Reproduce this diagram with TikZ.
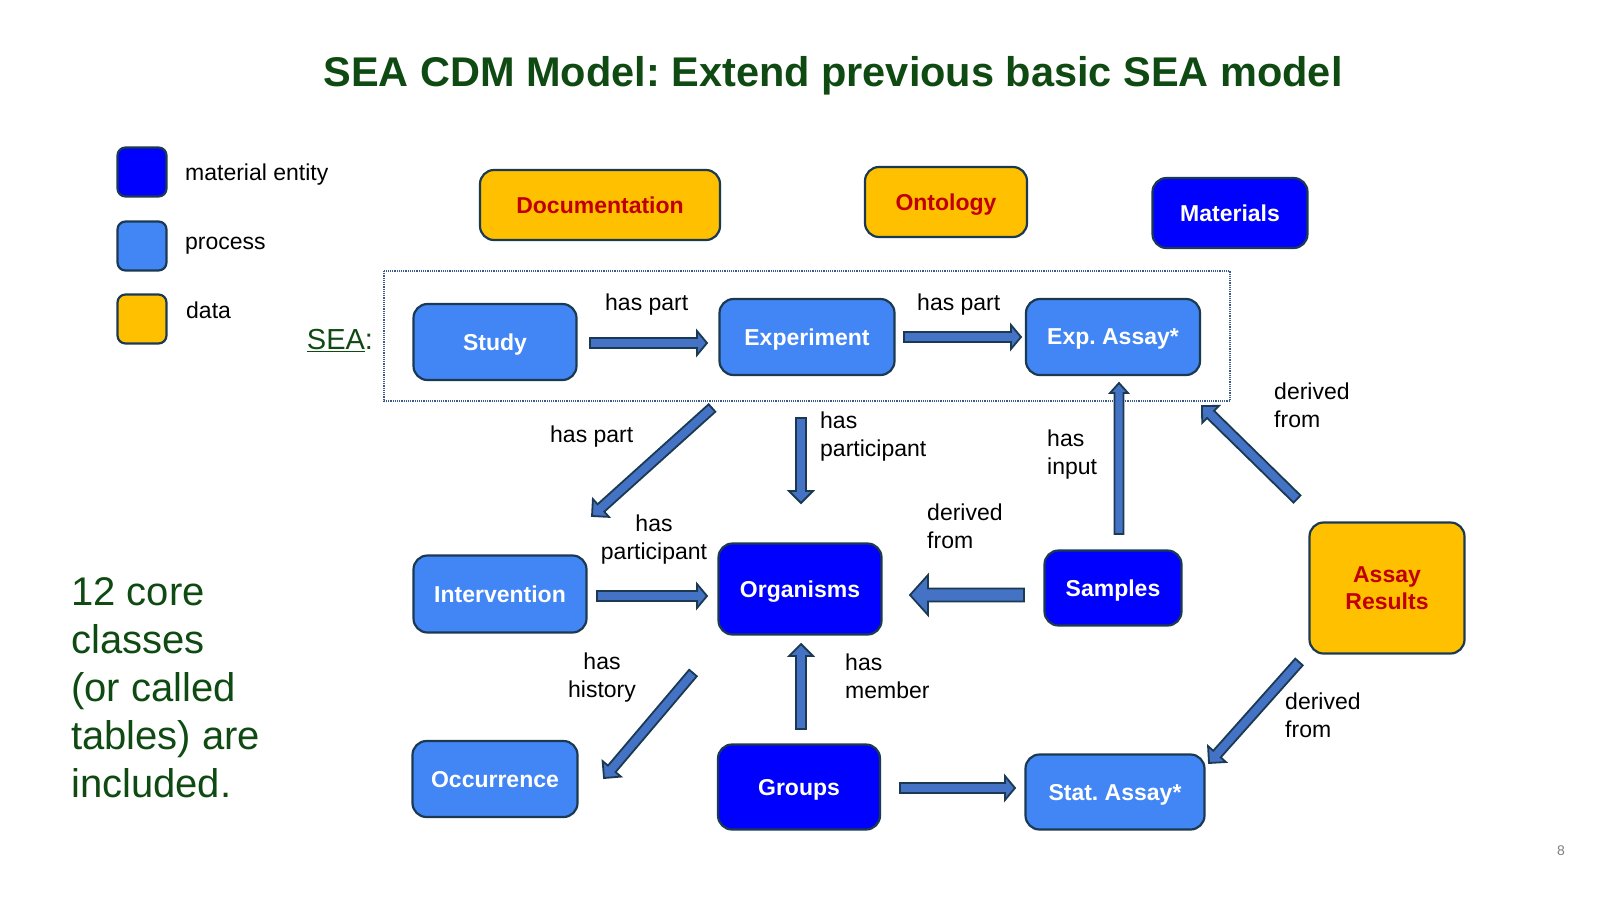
\documentclass[tikz,border=0pt]{standalone}
\usepackage{fontspec}
\setmainfont{Liberation Sans}
\usetikzlibrary{calc}
\frenchspacing
\definecolor{dgreen}{HTML}{0F4A12}
\definecolor{proc}{HTML}{4285F4}
\definecolor{mat}{HTML}{0000FF}
\definecolor{dat}{HTML}{FFC000}
\definecolor{bord}{HTML}{1B3A52}
\definecolor{arrfill}{HTML}{4472C4}
\definecolor{datext}{HTML}{C00000}
\definecolor{dotc}{HTML}{3A5A8C}
\newcommand\myarrow[5]{%
  \coordinate (tmpT) at ($(#2)!#5!(#1)$);
  \draw[barrow] ($(#1)!#3!90:(#2)$) -- ($(tmpT)!#3!90:(#2)$) -- ($(tmpT)!#4!90:(#2)$) -- (#2) -- ($(tmpT)!#4!-90:(#2)$) -- ($(tmpT)!#3!-90:(#2)$) -- ($(#1)!#3!-90:(#2)$) -- cycle;
}
\begin{document}
\frenchspacing
\begin{tikzpicture}[x=1pt,y=-1pt,
  box/.style={draw=bord, line width=2.2pt, rounded corners=14pt, font=\fontsize{23}{27}\selectfont\bfseries, align=center, inner sep=0pt, text depth=0pt},
  procbox/.style={box, fill=proc, text=white},
  matbox/.style={box, fill=mat, text=white},
  databox/.style={box, fill=dat, text=datext},
  legbox/.style={draw=bord, line width=2.2pt, rounded corners=8pt, minimum width=49pt, minimum height=49pt, inner sep=0pt},
  lbl/.style={font=\fontsize{23}{28}\selectfont, align=left, inner sep=0pt},
  lblc/.style={font=\fontsize{23}{28}\selectfont, align=center, inner sep=0pt},
  barrow/.style={fill=arrfill, draw=bord, line width=1.8pt, line join=miter}]
\useasboundingbox (0,0) rectangle (1600,900);
% title
\node[text=dgreen, font=\fontsize{41.5}{49}\selectfont\bfseries] (title) at (833,76) {SEA CDM Model: Extend previous basic SEA model};
% legend
\node[legbox, fill=mat] (lg1) at (142,172) {};
\node[legbox, fill=proc] (lg2) at (142,246) {};
\node[legbox, fill=dat] (lg3) at (142,319) {};
\node[lbl, anchor=west] (lt1) at (185,175) {material entity};
\node[lbl, anchor=west] (lt2) at (185,246) {process};
\node[lbl, anchor=west] (lt3) at (186,310) {data};
% left text
\node[text=dgreen, font=\fontsize{40}{48}\selectfont, align=left, anchor=north west, inner sep=0pt] (core) at (71,577) {12 core\\classes\\(or called\\tables) are\\included.};
% SEA label
\node[text=dgreen, font=\fontsize{29}{34}\selectfont, inner sep=0pt] (sealbl) at (340,341) {\underline{SEA}:};
% dotted box
\draw[dotc, densely dotted, line width=1.2pt] (384,271) rectangle (1230,401);
% top data/material
\node[databox, minimum width=240pt, minimum height=70pt] (doc) at (600,205) {Documentation};
\node[databox, minimum width=162pt, minimum height=70pt] (onto) at (946,202) {Ontology};
\node[matbox, minimum width=155pt, minimum height=70pt] (mats) at (1230,213) {Materials};
% SEA row
\node[procbox, minimum width=163pt, minimum height=76pt] (study) at (495,342) {Study};
\node[procbox, minimum width=175pt, minimum height=76pt] (exp) at (807,337) {Experiment};
\node[procbox, minimum width=174pt, minimum height=76pt] (assay) at (1113,337) {Exp. Assay*};
% middle row
\node[procbox, minimum width=173pt, minimum height=77pt] (interv) at (500,594) {Intervention};
\node[matbox, minimum width=163pt, minimum height=91pt] (org) at (800,589) {Organisms};
\node[matbox, minimum width=137pt, minimum height=75pt] (samp) at (1113,588) {Samples};
\node[databox, minimum width=155pt, minimum height=131pt] (ares) at (1387,588) {Assay\\Results};
% bottom row
\node[procbox, minimum width=165pt, minimum height=76pt] (occ) at (495,779) {Occurrence};
\node[matbox, minimum width=162pt, minimum height=85pt] (grp) at (799,787) {Groups};
\node[procbox, minimum width=179pt, minimum height=75pt] (stat) at (1115,792) {Stat. Assay*};
% arrow end points
\coordinate (a1s) at (590,343); \coordinate (a1e) at (707,343);
\coordinate (a2s) at (904,337); \coordinate (a2e) at (1021,337);
\coordinate (a3s) at (712,408); \coordinate (a3e) at (592,516);
\coordinate (a4s) at (801,418); \coordinate (a4e) at (801,503);
\coordinate (a5s) at (1119,534); \coordinate (a5e) at (1119,383);
\coordinate (a6s) at (1297,499); \coordinate (a6e) at (1202,406);
\coordinate (a7s) at (597,596); \coordinate (a7e) at (707,596);
\coordinate (a8s) at (1024,595); \coordinate (a8e) at (910,595);
\coordinate (a9s) at (693,673); \coordinate (a9e) at (604,778);
\coordinate (a10s) at (801,729); \coordinate (a10e) at (801,644);
\coordinate (a11s) at (900,788); \coordinate (a11e) at (1015,788);
\coordinate (a12s) at (1299,662); \coordinate (a12e) at (1209,763);
\myarrow{a1s}{a1e}{5pt}{12pt}{10pt}
\myarrow{a2s}{a2e}{5pt}{12pt}{10pt}
\myarrow{a3s}{a3e}{5pt}{12pt}{12pt}
\myarrow{a4s}{a4e}{5pt}{12pt}{12pt}
\myarrow{a5s}{a5e}{4.5pt}{9pt}{10pt}
\myarrow{a6s}{a6e}{5pt}{12pt}{12pt}
\myarrow{a7s}{a7e}{5pt}{12pt}{10pt}
\myarrow{a8s}{a8e}{6.5pt}{20pt}{18pt}
\myarrow{a9s}{a9e}{5pt}{12pt}{12pt}
\myarrow{a10s}{a10e}{5pt}{12pt}{12pt}
\myarrow{a11s}{a11e}{5pt}{12pt}{10pt}
\myarrow{a12s}{a12e}{5pt}{12pt}{12pt}
% labels
\node[lbl, anchor=west] (l1) at (605,305) {has part};
\node[lbl, anchor=west] (l2) at (917,305) {has part};
\node[lbl, anchor=west] (l3) at (550,437) {has part};
\node[lbl, anchor=west] (l4) at (820,437) {has\\participant};
\node[lbl, anchor=west] (l5) at (1047,455) {has\\input};
\node[lbl, anchor=west] (l6) at (1274,405) {derived\\from};
\node[lblc] (l7) at (654,540) {has\\participant};
\node[lbl, anchor=west] (l8) at (927,526) {derived\\from};
\node[lblc] (l9) at (602,678) {has\\history};
\node[lbl, anchor=west] (l10) at (845,676) {has\\member};
\node[lbl, anchor=west] (l11) at (1285,715) {derived\\from};
% page number
\node[text=gray, font=\fontsize{14}{16}\selectfont] (pg) at (1561,851) {8};
\end{tikzpicture}
\end{document}
